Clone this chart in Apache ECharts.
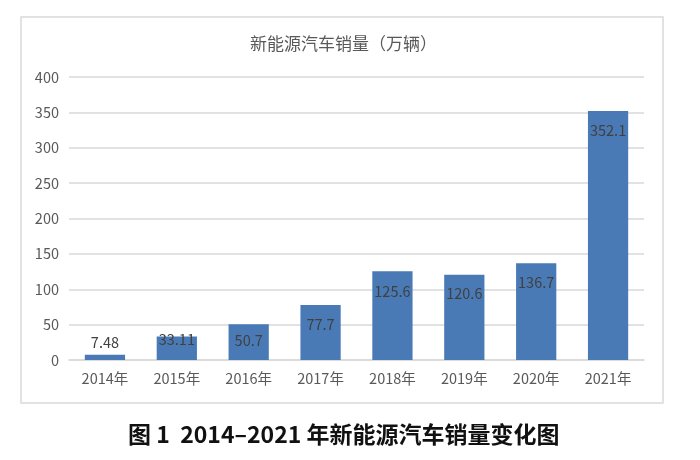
<!DOCTYPE html>
<html>
<head>
<meta charset="utf-8">
<script src="https://cdn.jsdelivr.net/npm/echarts@6/dist/echarts.min.js"></script>
<style>html,body{margin:0;padding:0;background:#fff;}#c{width:700px;height:460px;}</style>
</head>
<body>
<div id="c"></div>
<script>
const categories = ['2014年','2015年','2016年','2017年','2018年','2019年','2020年','2021年'];
const sales = [7.48, 33.11, 50.7, 77.7, 125.6, 120.6, 136.7, 352.1];
const labelTexts = ['7.48','33.11','50.7','77.7','125.6','120.6','136.7','352.1'];
const chartTitle = '新能源汽车销量（万辆）';
const caption = '图 1  2014–2021 年新能源汽车销量变化图';

const labelPos = [
  {position: 'top', distance: 5},
  {position: 'insideTop', distance: -4},
  {position: 'insideTop', distance: 9},
  {position: 'insideTop', distance: 12},
  {position: 'insideTop', distance: 13},
  {position: 'insideTop', distance: 12},
  {position: 'insideTop', distance: 12},
  {position: 'insideTop', distance: 12}
];

const chart = echarts.init(document.getElementById('c'), null, {renderer: 'canvas'});
const font = '"Noto Sans CJK SC", "Open Sans", sans-serif';
chart.setOption({
  backgroundColor: '#ffffff',
  animation: false,
  title: {
    text: chartTitle,
    left: 245,
    top: 30,
    textStyle: {fontFamily: font, fontSize: 17, fontWeight: 'normal', color: '#595959'}
  },
  graphic: [
    {type: 'rect', shape: {x: 21, y: 17, width: 642, height: 386}, style: {fill: 'none', stroke: '#d9d9d9', lineWidth: 1.5}, z: -1},
    {type: 'text', left: 128, top: 423, style: {text: caption, font: 'bold 23px "Noto Sans CJK SC", sans-serif', fill: '#111111'}}
  ],
  grid: {left: 69, right: 56, top: 77, bottom: 100},
  xAxis: {
    type: 'category',
    data: categories,
    axisLine: {lineStyle: {color: '#d9d9d9', width: 1.5}},
    axisTick: {show: false},
    axisLabel: {fontFamily: font, fontSize: 14.5, color: '#595959', margin: 11}
  },
  yAxis: {
    type: 'value',
    min: 0, max: 400, interval: 50,
    axisLine: {show: false},
    axisTick: {show: false},
    splitLine: {lineStyle: {color: '#d9d9d9', width: 1.5}},
    axisLabel: {fontFamily: font, fontSize: 14.5, color: '#595959', margin: 10}
  },
  series: [{
    type: 'bar',
    data: sales.map((v, i) => ({
      value: v,
      label: {show: true, position: labelPos[i].position, distance: labelPos[i].distance, formatter: labelTexts[i]}
    })),
    barWidth: '56%',
    itemStyle: {color: '#4a7ab6'},
    label: {show: true, fontFamily: font, fontSize: 14.5, color: '#404040'}
  }]
});
</script>
</body>
</html>
